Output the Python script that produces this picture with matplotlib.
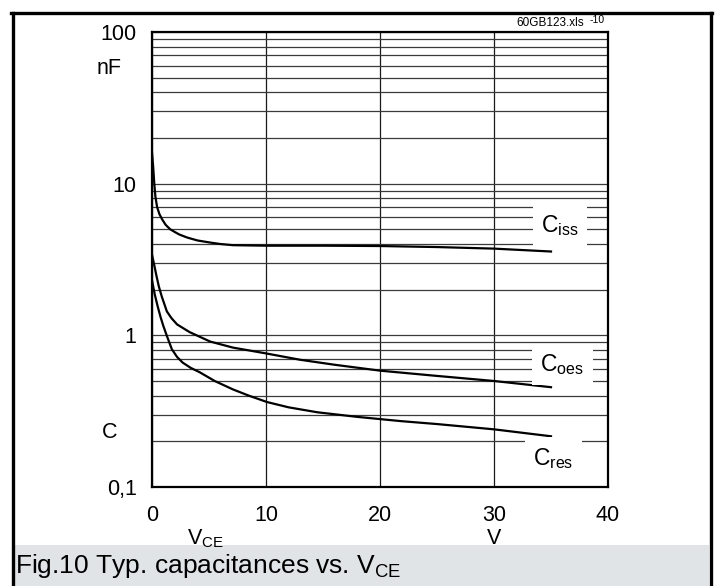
import matplotlib
matplotlib.use("Agg")
import matplotlib.pyplot as plt
from matplotlib.ticker import LogLocator, NullFormatter, FixedLocator, FixedFormatter
from matplotlib.patches import Rectangle
from matplotlib.lines import Line2D

plt.rcParams['font.family'] = ['Liberation Sans', 'DejaVu Sans']
plt.rcParams['mathtext.fontset'] = 'custom'
plt.rcParams['mathtext.rm'] = 'Liberation Sans'
plt.rcParams['mathtext.it'] = 'Liberation Sans:italic'

# ---- data ----
ciss_x = [0, 0.1, 0.2, 0.3, 0.45, 0.65, 0.9, 1.2, 1.6, 2.0, 2.4, 3.1, 4, 5.1, 6, 7.1, 10, 15, 20, 25, 30, 35]
ciss_y = [16, 13, 10, 8.2, 7.0, 6.3, 5.8, 5.35, 5.0, 4.8, 4.62, 4.41, 4.22, 4.09, 4.0, 3.93, 3.9, 3.9, 3.88, 3.82, 3.73, 3.57]

coes_x = [0, 0.2, 0.4, 0.6, 0.86, 1.3, 1.7, 2.2, 3.3, 5.1, 7.1, 10, 13, 16, 20, 25, 30, 35]
coes_y = [3.4, 2.9, 2.45, 2.1, 1.8, 1.44, 1.3, 1.18, 1.05, 0.91, 0.83, 0.76, 0.69, 0.64, 0.585, 0.54, 0.5, 0.455]

cres_x = [0, 0.25, 0.5, 0.75, 1.0, 1.35, 1.74, 2.2, 2.7, 3.4, 4.2, 5.5, 7.1, 8.5, 10.1, 12, 14.5, 18, 21.8, 25, 30, 35]
cres_y = [2.3, 1.85, 1.55, 1.32, 1.15, 0.97, 0.81, 0.72, 0.66, 0.61, 0.57, 0.5, 0.44, 0.4, 0.363, 0.335, 0.311, 0.29, 0.272, 0.26, 0.24, 0.216]

x_ticks = [0, 10, 20, 30, 40]
x_ticklabels = ['0', '10', '20', '30', '40']
y_ticks = [0.1, 1, 10, 100]
y_ticklabels = ['0,1', '1', '10', '100']

W, H = 715, 586
fig = plt.figure(figsize=(W / 100, H / 100), dpi=100)

def fx(px):
    return px / W

def fy(py):
    return 1 - py / H

# axes placement (pixels)
L, R, T, B = 152, 608, 32, 487
ax = fig.add_axes([fx(L), fy(B), (R - L) / W, (B - T) / H])
ax.set_yscale('log')
ax.set_xlim(0, 40)
ax.set_ylim(0.1, 100)

ax.xaxis.set_major_locator(FixedLocator(x_ticks))
ax.xaxis.set_major_formatter(FixedFormatter(x_ticklabels))
ax.yaxis.set_major_locator(FixedLocator(y_ticks))
ax.yaxis.set_major_formatter(FixedFormatter(y_ticklabels))
ax.yaxis.set_minor_locator(LogLocator(base=10, subs=range(2, 10)))
ax.yaxis.set_minor_formatter(NullFormatter())

ax.tick_params(axis='both', which='both', length=0, labelsize=15.5, colors='black')
ax.tick_params(axis='y', pad=11)
ax.tick_params(axis='x', pad=13)

ax.grid(True, axis='y', which='both', color='#3a3a3a', lw=0.9, zorder=1)
ax.grid(True, axis='x', which='major', color='#1a1a1a', lw=0.9, zorder=1)
ax.set_axisbelow(True)
for s in ax.spines.values():
    s.set_linewidth(1.6)
    s.set_color('black')

lw = 1.6
ax.plot(ciss_x, ciss_y, color='black', lw=lw, zorder=3, solid_joinstyle='round')
ax.plot(coes_x, coes_y, color='black', lw=lw, zorder=3, solid_joinstyle='round')
ax.plot(cres_x, cres_y, color='black', lw=lw, zorder=3, solid_joinstyle='round')

box = dict(facecolor='white', edgecolor='none', pad=6)
ax.text(35.8, 5.3, r'C$_{\mathrm{iss}}$', fontsize=16.5, ha='center', va='center', bbox=box, zorder=5)
ax.text(36.0, 0.645, r'C$_{\mathrm{oes}}$', fontsize=16.5, ha='center', va='center', bbox=box, zorder=5)
ax.text(35.2, 0.155, r'C$_{\mathrm{res}}$', fontsize=16.5, ha='center', va='center', bbox=box, zorder=5)

# axis unit labels
fig.text(fx(109), fy(68), 'nF', fontsize=15.5, ha='center', va='center')
fig.text(fx(110), fy(433), 'C', fontsize=15.5, ha='center', va='center')
fig.text(fx(187), fy(544), r'V$_{\mathrm{CE}}$', fontsize=15.5, ha='left', va='baseline')
fig.text(fx(494), fy(544), 'V', fontsize=15.5, ha='center', va='baseline')

# file tag
fig.text(fx(550), fy(23), '60GB123.xls', fontsize=8.5, ha='center', va='center')
fig.text(fx(597), fy(20), '-10', fontsize=7.5, ha='center', va='center')

# caption band
fig.patches.append(Rectangle((fx(13), 0), fx(709) - fx(13), fy(545), transform=fig.transFigure,
                             facecolor='#e1e4e7', edgecolor='none', zorder=0))
fig.text(fx(15), fy(566), r'Fig.10 Typ. capacitances vs. V$_{\mathrm{CE}}$', fontsize=19,
         ha='left', va='center', zorder=2)

# outer border (left, top, right)
bl = 2.4
fig.lines.append(Line2D([fx(12.5), fx(12.5)], [0, fy(12.5)], transform=fig.transFigure, color='black', lw=bl))
fig.lines.append(Line2D([fx(11.5), fx(711.5)], [fy(12.5), fy(12.5)], transform=fig.transFigure, color='black', lw=bl))
fig.lines.append(Line2D([fx(711), fx(711)], [0, fy(12.5)], transform=fig.transFigure, color='black', lw=bl))

fig.savefig('out.png', dpi=100, facecolor='white')
